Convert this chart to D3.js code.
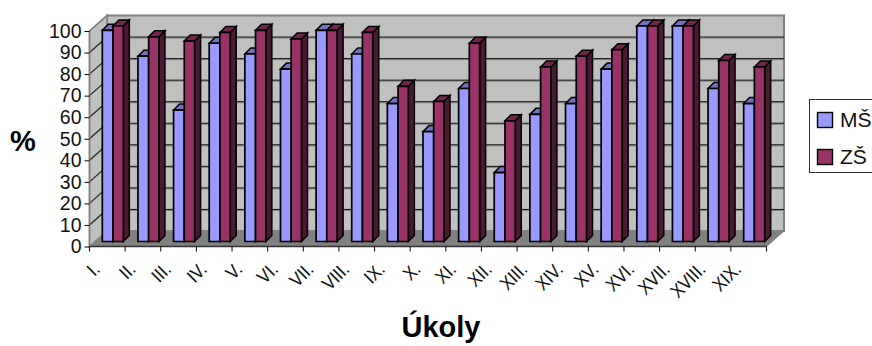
<!DOCTYPE html>
<html><head><meta charset="utf-8">
<script src="https://cdn.jsdelivr.net/npm/d3@7/dist/d3.min.js"></script>
<style>html,body{margin:0;padding:0;background:#fff}svg{display:block;font-family:"Liberation Sans",Arial,sans-serif}</style>
</head><body><svg id="c" width="872" height="346"></svg>
<script>
const categories=["I.","II.","III.","IV.","V.","VI.","VII.","VIII.","IX.","X.","XI.","XII.","XIII.","XIV.","XV.","XVI.","XVII.","XVIII.","XIX."];
const msValues=[98,86,61,92,87,80,98,87,64,51,71,32,59,64,80,100,100,71,64];
const zsValues=[100,95,93,97,98,94,98,97,72,65,92,56,81,86,89,100,100,84,81];
const seriesNames=["MŠ","ZŠ"];
const yTicks=d3.range(0,101,10);

const svg=d3.select("#c");
const x=d3.scaleBand().domain(categories).range([89.5,766.5]);
const y=d3.scaleLinear().domain([0,100]).range([246.5,31]);
const wallDx=17.5,wallDy=-15.5,barDx=5.5,barDy=-5,depthDx=6,depthDy=-6;
const poly=(pts,fill,stroke,sw)=>svg.append("polygon").attr("points",pts.map(p=>p.join(",")).join(" ")).attr("fill",fill).attr("stroke",stroke).attr("stroke-width",sw).attr("stroke-linejoin","miter");
const x0=x.range()[0],x1=x.range()[1],y0=y(0),y100=y(100);

poly([[x0+wallDx,y100+wallDy],[x1+wallDx,y100+wallDy],[x1+wallDx,y0+wallDy],[x0+wallDx,y0+wallDy]],"#c0c0c0","#808080",2);
poly([[x0,y100],[x0+wallDx,y100+wallDy],[x0+wallDx,y0+wallDy],[x0,y0]],"#c0c0c0","#808080",1.5);
poly([[x0,y0],[x0+wallDx,y0+wallDy],[x1+wallDx,y0+wallDy],[x1,y0]],"#808080","#808080",1);

yTicks.filter(d=>d>0).forEach(d=>{
  const yy=y(d)+wallDy;
  if(d<100){
    svg.append("line").attr("x1",x0+wallDx).attr("x2",x1+wallDx).attr("y1",yy+1).attr("y2",yy+1).attr("stroke","#808080").attr("stroke-width",1);
    svg.append("line").attr("x1",x0+wallDx).attr("x2",x1+wallDx).attr("y1",yy).attr("y2",yy).attr("stroke","#111").attr("stroke-width",1);
  }
  svg.append("line").attr("x1",x0).attr("x2",x0+wallDx).attr("y1",y(d)).attr("y2",yy).attr("stroke",d===100?"#808080":"#222").attr("stroke-width",1.2);
});

const bw=x.bandwidth(), msW=10.7, zsW=10.3, gap=(bw-msW-zsW)/2;
function bar(cat,val,left,w,cFront,cTop,cSide){
  const l=x(cat)+left+barDx, r=l+w, t=y(val)+barDy, b=y0+barDy;
  poly([[r,t],[r+depthDx,t+depthDy],[r+depthDx,b+depthDy],[r,b]],cSide,"#000",1.5);
  poly([[l,t],[l+depthDx,t+depthDy],[r+depthDx,t+depthDy],[r,t]],cTop,"#000",1.5);
  poly([[l,t],[r,t],[r,b],[l,b]],cFront,"#000",1.7);
}
categories.forEach((c,i)=>{
  bar(c,msValues[i],gap,msW,"#9999ff","#7272bf","#4c4c80");
  bar(c,zsValues[i],gap+msW,zsW,"#993366","#72264c","#4c1933");
});

svg.append("line").attr("x1",x0).attr("x2",x0).attr("y1",y100).attr("y2",y0).attr("stroke","#808080").attr("stroke-width",1.5);
svg.append("line").attr("x1",x0).attr("x2",x1).attr("y1",y0).attr("y2",y0).attr("stroke","#333").attr("stroke-width",1.5);
const yAxis=d3.axisLeft(y).tickValues(yTicks).tickSize(5).tickPadding(3);
const gy=svg.append("g").attr("transform",`translate(${x0},0)`).call(yAxis);
gy.select(".domain").remove();
gy.selectAll("line").attr("stroke","#000");
gy.selectAll("text").attr("font-size",19.5).attr("font-family","Liberation Sans").attr("fill","#111");
const xTicks=categories.map(c=>x(c)).concat([x1]);
svg.selectAll(".xt").data(xTicks).join("line").attr("x1",d=>d).attr("x2",d=>d).attr("y1",y0).attr("y2",y0+5).attr("stroke","#000");
svg.selectAll(".xl").data(categories).join("text")
  .attr("transform",c=>`translate(${x(c)+11.5},${y0+24}) rotate(-45) scale(0.87,1)`)
  .attr("text-anchor","end").attr("font-size",19).attr("fill","#111").text(c=>c);

svg.append("text").attr("x",23).attr("y",151).attr("text-anchor","middle").attr("font-size",29).attr("font-weight","bold").attr("fill","#000").text("%");
svg.append("text").attr("x",441).attr("y",337).attr("text-anchor","middle").attr("font-size",29).attr("font-weight","bold").attr("fill","#000").text("Úkoly");

svg.append("rect").attr("x",809.5).attr("y",99.5).attr("width",72).attr("height",73).attr("fill","#fff").attr("stroke","#333");
seriesNames.forEach((n,i)=>{
  const ly=112.5+i*37;
  svg.append("rect").attr("x",817.5).attr("y",ly).attr("width",15).attr("height",15).attr("fill",i?"#993366":"#9999ff").attr("stroke","#000").attr("stroke-width",1.4);
  svg.append("text").attr("x",840).attr("y",ly+14.5).attr("font-size",21).attr("fill","#111").text(n);
});
</script></body></html>
